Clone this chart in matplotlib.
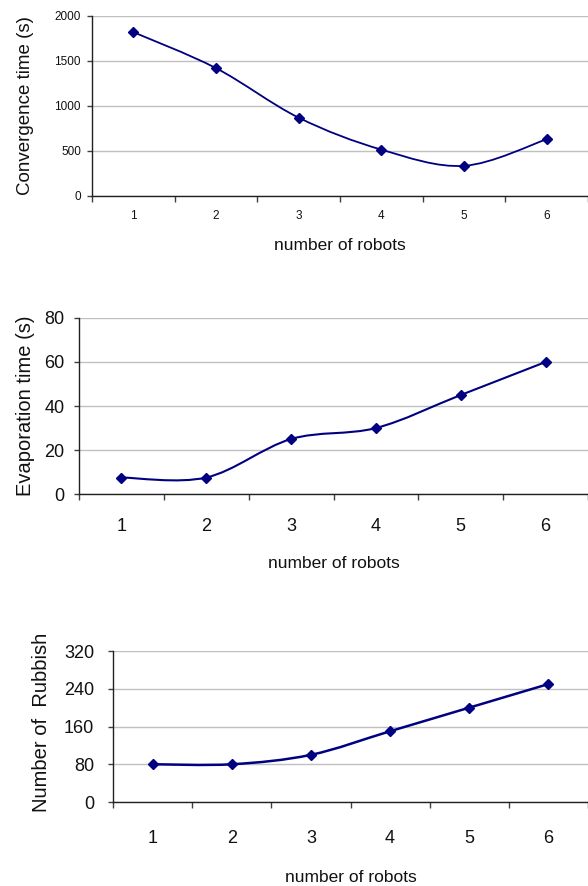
import matplotlib
matplotlib.use("Agg")
import matplotlib.pyplot as plt
from matplotlib.path import Path
from matplotlib.patches import PathPatch
import numpy as np

# data
robots = [1, 2, 3, 4, 5, 6]
convergence = [1820, 1420, 870, 515, 335, 630]
evaporation = [7.5, 7.5, 25, 30, 45, 60]
rubbish = [80, 80, 100, 150, 200, 250]

NAVY = '#000080'
GRID = '#c0c0c0'

plt.rcParams['font.family'] = ['Liberation Sans', 'DejaVu Sans']


def smooth_path(xs, ys):
    """Excel-like smoothed line: cubic bezier through the points."""
    pts = np.column_stack([xs, ys]).astype(float)
    verts = [pts[0]]
    codes = [Path.MOVETO]
    n = len(pts)
    for i in range(n - 1):
        p0 = pts[i - 1] if i > 0 else pts[i]
        p1, p2 = pts[i], pts[i + 1]
        p3 = pts[i + 2] if i + 2 < n else pts[i + 1]
        verts += [p1 + (p2 - p0) / 6, p2 - (p3 - p1) / 6, p2]
        codes += [Path.CURVE4] * 3
    return Path(verts, codes)


def draw_panel(rect, values, ymax, ystep, ylabel, tick_size,
               ytick_pad, xtick_pad, ylab_x, ylab_y, ylab_size, xlab_y,
               xlab_size, lw):
    ax = fig.add_axes(rect)
    ax.add_patch(PathPatch(smooth_path(robots, values), fill=False,
                           edgecolor=NAVY, lw=lw, zorder=3))
    ax.plot(robots, values, ls='none', marker='D', ms=5.5, color=NAVY, zorder=4)
    ax.set_xlim(0.5, 6.5)
    ax.set_ylim(0, ymax)
    ax.set_yticks(np.arange(0, ymax + 1, ystep))
    ax.set_xticks(robots)
    ax.set_xticks(np.arange(0.5, 6.6, 1), minor=True)
    ax.yaxis.grid(True, color=GRID, lw=1)
    ax.set_axisbelow(True)
    for s in ['top', 'right']:
        ax.spines[s].set_visible(False)
    for s in ['left', 'bottom']:
        ax.spines[s].set_color('#202020')
        ax.spines[s].set_linewidth(1)
    ax.tick_params(axis='x', which='major', length=0, pad=xtick_pad,
                   labelsize=tick_size, labelcolor='#111111')
    ax.tick_params(axis='x', which='minor', length=4, width=1, color='#404040')
    ax.tick_params(axis='y', length=3.5, width=1, color='#404040', pad=ytick_pad,
                   labelsize=tick_size, labelcolor='#111111')
    ax.set_ylabel(ylabel, fontsize=ylab_size, color='#111111')
    ax.yaxis.set_label_coords(ylab_x, ylab_y)
    ax.set_xlabel('number of robots', fontsize=xlab_size, color='#111111')
    ax.xaxis.set_label_coords(0.5, xlab_y)
    return ax


fig = plt.figure(figsize=(5.88, 8.86), dpi=100)

draw_panel([0.1565, 0.7788, 0.8435, 0.2032], convergence, 2000, 500,
           'Convergence time (s)', 8.5, 4.5, 10,
           -0.117, 0.5, 13.5, -0.233, 12.5, 1.3)

draw_panel([0.1344, 0.4424, 0.8656, 0.1987], evaporation, 80, 20,
           'Evaporation time (s)', 13, 7, 17,
           -0.086, 0.5, 14.5, -0.35, 12.5, 1.5)

draw_panel([0.1922, 0.0948, 0.8078, 0.1704], rubbish, 320, 80,
           'Number of  Rubbish', 13, 10, 20,
           -0.13, 0.53, 14.5, -0.45, 12.5, 1.8)

fig.savefig('out.png', dpi=100)
